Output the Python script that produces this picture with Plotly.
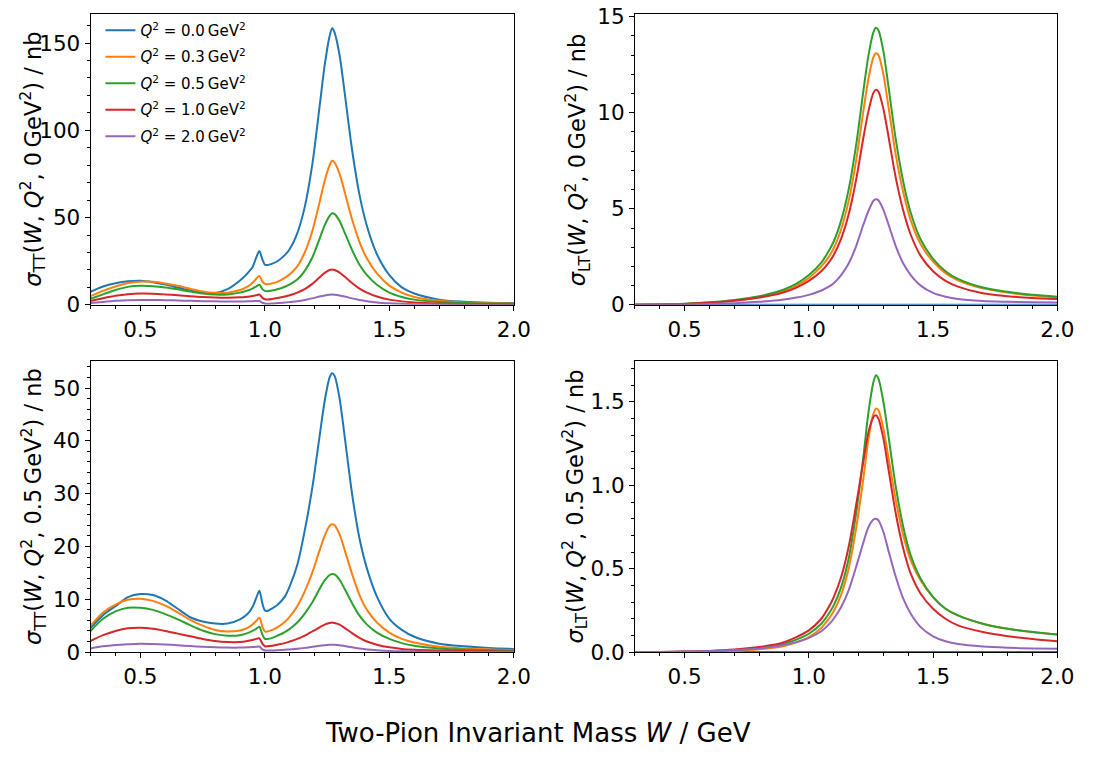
import plotly.graph_objects as go

# ---------------- data ----------------
W_TT = [0.30, 0.35, 0.40, 0.45, 0.50, 0.55, 0.60, 0.65, 0.70, 0.75, 0.80, 0.85, 0.90, 0.93, 0.95,
        0.965, 0.978, 0.99, 1.00, 1.01, 1.03, 1.05, 1.08, 1.10, 1.13, 1.16, 1.19, 1.22, 1.24, 1.26,
        1.27, 1.28, 1.30, 1.32, 1.35, 1.38, 1.41, 1.45, 1.50, 1.55, 1.60, 1.70, 1.80, 1.90, 2.00]

W_LT = [0.30, 0.40, 0.50, 0.60, 0.70, 0.80, 0.85, 0.90, 0.95, 1.00, 1.05, 1.08, 1.10, 1.13, 1.16,
        1.19, 1.22, 1.24, 1.26, 1.27, 1.28, 1.30, 1.32, 1.35, 1.38, 1.41, 1.45, 1.50, 1.55, 1.60,
        1.70, 1.80, 1.90, 2.00]

q2_labels = ["0.0", "0.3", "0.5", "1.0", "2.0"]
colors = ["#1f77b4", "#ff7f0e", "#2ca02c", "#d62728", "#9467bd"]

# sigma_TT(W, Q^2, 0 GeV^2)
tt_a_q00 = [7.5, 10.5, 12.4, 13.5, 13.8, 13.0, 11.6, 9.9, 8.2, 7.0, 6.8, 9.0, 14.0, 18.0, 21.5,
            27.0, 30.8, 26.0, 23.0, 22.8, 23.6, 25.0, 28.5, 32.0, 41.0, 56.0, 80.0, 114.0, 137.0, 154.0,
            158.5, 156.0, 143.0, 122.0, 89.0, 63.0, 45.0, 29.0, 17.0, 10.0, 6.5, 3.0, 1.8, 1.2, 1.0]
tt_a_q03 = [5.0, 8.0, 10.5, 12.5, 13.3, 13.2, 12.3, 10.9, 9.2, 7.7, 6.9, 7.0, 8.5, 10.5, 12.5,
            15.0, 16.6, 13.5, 12.0, 11.8, 12.3, 13.2, 15.5, 17.5, 22.0, 30.0, 42.0, 59.0, 71.0, 80.0,
            82.5, 81.5, 75.0, 65.0, 49.0, 36.0, 26.5, 18.0, 11.0, 7.0, 4.5, 2.3, 1.4, 1.0, 0.8]
tt_a_q05 = [3.5, 6.0, 8.5, 10.3, 10.9, 10.7, 10.0, 8.9, 7.6, 6.5, 5.9, 6.0, 7.0, 8.2, 9.3,
            10.5, 11.5, 9.0, 8.0, 7.8, 8.2, 8.9, 10.4, 11.7, 14.5, 19.5, 27.0, 38.0, 45.5, 51.0,
            52.5, 52.0, 48.0, 41.5, 31.5, 23.0, 17.0, 11.5, 7.0, 4.5, 3.0, 1.6, 1.0, 0.8, 0.6]
tt_a_q10 = [2.2, 3.8, 5.2, 6.1, 6.5, 6.4, 6.0, 5.5, 5.0, 4.5, 4.2, 4.1, 4.3, 4.7, 5.1,
            5.5, 5.9, 4.0, 3.2, 3.1, 3.4, 3.9, 4.8, 5.5, 7.0, 9.0, 12.0, 15.8, 18.3, 20.0,
            20.3, 20.0, 18.5, 16.2, 12.5, 9.3, 7.0, 4.8, 3.0, 2.0, 1.4, 0.8, 0.5, 0.4, 0.3]
tt_a_q20 = [1.0, 1.7, 2.3, 2.7, 2.8, 2.8, 2.7, 2.5, 2.3, 2.1, 2.0, 1.9, 1.9, 2.0, 2.1,
            2.2, 2.2, 1.2, 0.8, 0.7, 0.8, 1.0, 1.3, 1.6, 2.1, 2.8, 3.7, 4.8, 5.4, 5.8,
            5.9, 5.8, 5.4, 4.8, 3.7, 2.8, 2.1, 1.4, 0.9, 0.6, 0.4, 0.2, 0.15, 0.1, 0.1]

# sigma_LT(W, Q^2, 0 GeV^2)
lt_a_q00 = [0.0, 0.0, 0.0, 0.0, 0.0, 0.0, 0.0, 0.0, 0.0, 0.0, 0.0, 0.0, 0.0, 0.0, 0.0, 0.0, 0.0,
            0.0, 0.0, 0.0, 0.0, 0.0, 0.0, 0.0, 0.0, 0.0, 0.0, 0.0, 0.0, 0.0, 0.0, 0.0, 0.0, 0.0]
lt_a_q03 = [0.0, 0.02, 0.05, 0.11, 0.22, 0.40, 0.54, 0.72, 1.0, 1.4, 2.0, 2.5, 2.95, 3.95, 5.4,
            7.5, 10.15, 11.8, 12.9, 13.1, 13.0, 12.0, 10.35, 7.8, 5.85, 4.4, 3.15, 2.25, 1.65, 1.28,
            0.86, 0.64, 0.49, 0.39]
lt_a_q05 = [0.0, 0.02, 0.06, 0.13, 0.25, 0.45, 0.6, 0.8, 1.1, 1.55, 2.2, 2.8, 3.3, 4.4, 6.0,
            8.3, 11.2, 13.0, 14.2, 14.43, 14.3, 13.2, 11.4, 8.6, 6.4, 4.8, 3.4, 2.4, 1.75, 1.35,
            0.9, 0.68, 0.52, 0.42]
lt_a_q10 = [0.0, 0.02, 0.05, 0.11, 0.21, 0.38, 0.5, 0.66, 0.9, 1.25, 1.75, 2.2, 2.6, 3.45, 4.7,
            6.5, 8.75, 10.1, 11.05, 11.2, 11.1, 10.2, 8.8, 6.6, 4.9, 3.65, 2.55, 1.75, 1.25, 0.95,
            0.6, 0.45, 0.36, 0.3]
lt_a_q20 = [0.0, 0.01, 0.02, 0.05, 0.09, 0.16, 0.21, 0.28, 0.38, 0.52, 0.75, 0.95, 1.13, 1.55, 2.15,
            3.05, 4.2, 4.9, 5.42, 5.5, 5.45, 4.95, 4.2, 3.05, 2.15, 1.55, 1.0, 0.62, 0.42, 0.3,
            0.2, 0.16, 0.13, 0.12]

# sigma_TT(W, Q^2, 0.5 GeV^2)
tt_b_q00 = [4.6, 7.0, 8.7, 10.4, 11.0, 10.8, 9.8, 8.2, 6.6, 5.8, 5.4, 5.4, 6.2, 7.2, 8.5,
            10.2, 11.6, 9.2, 7.9, 7.8, 8.3, 8.9, 10.5, 12.5, 16.5, 23.0, 31.0, 41.0, 47.5, 52.0,
            52.8, 52.3, 48.0, 41.0, 30.0, 21.5, 15.8, 10.5, 6.3, 4.2, 2.9, 1.6, 1.1, 0.8, 0.6]
tt_b_q03 = [5.0, 7.5, 9.0, 9.9, 10.1, 9.7, 8.8, 7.5, 6.1, 5.0, 4.2, 3.9, 4.1, 4.6, 5.2,
            5.9, 6.5, 4.8, 3.9, 3.9, 4.2, 4.7, 5.7, 6.7, 8.7, 11.5, 15.0, 19.3, 22.0, 23.9,
            24.2, 24.0, 22.3, 19.4, 14.8, 10.8, 8.0, 5.6, 3.7, 2.5, 1.8, 1.0, 0.7, 0.5, 0.4]
tt_b_q05 = [4.0, 6.3, 7.7, 8.4, 8.4, 8.0, 7.2, 6.2, 5.1, 4.1, 3.4, 3.1, 3.2, 3.6, 4.0,
            4.4, 4.8, 3.3, 2.5, 2.5, 2.7, 3.1, 3.8, 4.4, 5.6, 7.3, 9.4, 12.0, 13.6, 14.6,
            14.8, 14.7, 13.7, 12.0, 9.3, 6.9, 5.2, 3.7, 2.5, 1.7, 1.2, 0.7, 0.5, 0.35, 0.3]
tt_b_q10 = [2.1, 3.2, 4.0, 4.5, 4.6, 4.4, 4.0, 3.5, 3.0, 2.5, 2.1, 1.9, 1.9, 2.1, 2.3,
            2.5, 2.6, 1.6, 1.1, 1.1, 1.2, 1.4, 1.7, 2.0, 2.5, 3.1, 3.9, 4.7, 5.2, 5.5,
            5.6, 5.5, 5.2, 4.6, 3.6, 2.7, 2.0, 1.4, 0.9, 0.6, 0.45, 0.3, 0.2, 0.15, 0.1]
tt_b_q20 = [0.7, 1.1, 1.35, 1.5, 1.6, 1.55, 1.45, 1.3, 1.15, 1.0, 0.9, 0.85, 0.85, 0.9, 0.95,
            1.0, 1.05, 0.5, 0.3, 0.3, 0.3, 0.35, 0.45, 0.5, 0.65, 0.8, 1.0, 1.2, 1.3, 1.38,
            1.4, 1.38, 1.3, 1.15, 0.9, 0.68, 0.5, 0.35, 0.22, 0.15, 0.1, 0.06, 0.04, 0.03, 0.02]

# sigma_LT(W, Q^2, 0.5 GeV^2)
lt_b_q00 = [0.0, 0.0, 0.0, 0.0, 0.0, 0.0, 0.0, 0.0, 0.0, 0.0, 0.0, 0.0, 0.0, 0.0, 0.0, 0.0, 0.0,
            0.0, 0.0, 0.0, 0.0, 0.0, 0.0, 0.0, 0.0, 0.0, 0.0, 0.0, 0.0, 0.0, 0.0, 0.0, 0.0, 0.0]
lt_b_q03 = [0.0, 0.0, 0.001, 0.003, 0.008, 0.017, 0.025, 0.037, 0.058, 0.09, 0.145, 0.2, 0.245, 0.345, 0.5,
            0.74, 1.05, 1.28, 1.43, 1.46, 1.45, 1.34, 1.17, 0.91, 0.70, 0.55, 0.43, 0.33, 0.26, 0.22,
            0.17, 0.14, 0.12, 0.105]
lt_b_q05 = [0.0, 0.0, 0.002, 0.005, 0.012, 0.025, 0.035, 0.05, 0.075, 0.11, 0.17, 0.23, 0.28, 0.39, 0.56,
            0.83, 1.18, 1.44, 1.62, 1.66, 1.64, 1.50, 1.30, 0.99, 0.75, 0.58, 0.44, 0.33, 0.26, 0.22,
            0.17, 0.14, 0.12, 0.105]
lt_b_q10 = [0.0, 0.001, 0.003, 0.007, 0.015, 0.03, 0.042, 0.06, 0.09, 0.13, 0.2, 0.27, 0.33, 0.45, 0.63,
            0.88, 1.15, 1.32, 1.41, 1.42, 1.40, 1.28, 1.10, 0.83, 0.62, 0.47, 0.35, 0.26, 0.2, 0.16,
            0.12, 0.095, 0.078, 0.065]
lt_b_q20 = [0.0, 0.001, 0.003, 0.006, 0.012, 0.022, 0.03, 0.042, 0.06, 0.085, 0.125, 0.165, 0.2, 0.27, 0.37,
            0.51, 0.66, 0.75, 0.795, 0.80, 0.79, 0.72, 0.61, 0.45, 0.32, 0.23, 0.15, 0.095, 0.065, 0.048,
            0.033, 0.026, 0.022, 0.02]

panels = [
    # (x-axis id, y-axis id, W grid, series list)
    ("x", "y", W_TT, [tt_a_q00, tt_a_q03, tt_a_q05, tt_a_q10, tt_a_q20]),
    ("x2", "y2", W_LT, [lt_a_q00, lt_a_q03, lt_a_q05, lt_a_q10, lt_a_q20]),
    ("x3", "y3", W_TT, [tt_b_q00, tt_b_q03, tt_b_q05, tt_b_q10, tt_b_q20]),
    ("x4", "y4", W_LT, [lt_b_q00, lt_b_q03, lt_b_q05, lt_b_q10, lt_b_q20]),
]

fig = go.Figure()
for pi, (xa, ya, wgrid, series) in enumerate(panels):
    for si, vals in enumerate(series):
        fig.add_trace(go.Scatter(
            x=wgrid, y=vals, mode="lines", xaxis=xa, yaxis=ya,
            line=dict(color=colors[si], width=2, shape="spline", smoothing=0.8),
            name=f"<i>Q</i><sup>2</sup> = {q2_labels[si]}\u2009GeV<sup>2</sup>",
            legendgroup=f"g{si}", showlegend=(pi == 0),
            hoverinfo="skip",
        ))

FONT = "DejaVu Sans"
tickfont = dict(family=FONT, size=21.5, color="black")

def xaxis(domain, anchor):
    return dict(domain=domain, anchor=anchor, range=[0.3, 2.0],
                tickvals=[0.5, 1.0, 1.5, 2.0], ticktext=["0.5", "1.0", "1.5", "2.0"],
                ticks="outside", ticklen=5, tickwidth=1, tickcolor="black",
                minor=dict(dtick=0.1, tick0=0.0, ticks="outside", ticklen=3, tickwidth=1, tickcolor="black"),
                showline=True, linecolor="black", linewidth=1, mirror=True,
                showgrid=False, zeroline=False, tickfont=tickfont,
                ticklabeloverflow="allow")

def yaxis(domain, anchor, rng, dtick, mdtick, fmt):
    return dict(domain=domain, anchor=anchor, range=rng, dtick=dtick, tick0=0, tickformat=fmt,
                ticks="outside", ticklen=5, tickwidth=1, tickcolor="black",
                minor=dict(dtick=mdtick, tick0=0, ticks="outside", ticklen=3, tickwidth=1, tickcolor="black"),
                showline=True, linecolor="black", linewidth=1, mirror=True,
                showgrid=False, zeroline=False, tickfont=tickfont,
                ticklabeloverflow="allow")

W_PX, H_PX = 1094, 765
xl = [92 / W_PX, 522 / W_PX]
xr = [645 / W_PX, 1074 / W_PX]
yt = [1 - 304 / H_PX, 1 - 4 / H_PX]
yb = [1 - 662 / H_PX, 1 - 362 / H_PX]

fig.update_layout(
    width=W_PX, height=H_PX,
    margin=dict(l=0, r=0, t=0, b=0),
    paper_bgcolor="white", plot_bgcolor="white",
    font=dict(family=FONT, color="black"),
    xaxis=xaxis(xl, "y"), yaxis=yaxis(yt, "x", [0, 166.7], 50, 10, "d"),
    xaxis2=xaxis(xr, "y2"), yaxis2=yaxis(yt, "x2", [0, 15.15], 5, 1, "d"),
    xaxis3=xaxis(xl, "y3"), yaxis3=yaxis(yb, "x3", [0, 55.1], 10, 2, "d"),
    xaxis4=xaxis(xr, "y4"), yaxis4=yaxis(yb, "x4", [0, 1.745], 0.5, 0.1, ".1f"),
    showlegend=True,
    legend=dict(x=102 / W_PX, y=1 - 4 / H_PX, xanchor="left", yanchor="top",
                bgcolor="rgba(0,0,0,0)", borderwidth=0,
                font=dict(family=FONT, size=15, color="black"),
                traceorder="grouped", tracegroupgap=4, itemwidth=30),
)

def ytitle(text, xpx, ycen):
    fig.add_annotation(text=text, x=xpx / W_PX, y=ycen, xref="paper", yref="paper",
                       textangle=-90, showarrow=False, xanchor="center", yanchor="middle",
                       font=dict(family=FONT, size=22.5, color="black"))

ymid_t = (yt[0] + yt[1]) / 2
ymid_b = (yb[0] + yb[1]) / 2
ytitle("<i>σ</i><sub>TT</sub>(<i>W</i>, <i>Q</i><sup>2</sup>, 0\u2009GeV<sup>2</sup>) / nb", 33, ymid_t)
ytitle("<i>σ</i><sub>LT</sub>(<i>W</i>, <i>Q</i><sup>2</sup>, 0\u2009GeV<sup>2</sup>) / nb", 586, ymid_t)
ytitle("<i>σ</i><sub>TT</sub>(<i>W</i>, <i>Q</i><sup>2</sup>, 0.5\u2009GeV<sup>2</sup>) / nb", 34, ymid_b)
ytitle("<i>σ</i><sub>LT</sub>(<i>W</i>, <i>Q</i><sup>2</sup>, 0.5\u2009GeV<sup>2</sup>) / nb", 584, ymid_b)

fig.add_annotation(text="Two-Pion Invariant Mass <i>W</i> / GeV", x=546 / W_PX, y=1 - 745 / H_PX,
                   xref="paper", yref="paper", showarrow=False, xanchor="center", yanchor="middle",
                   font=dict(family=FONT, size=26, color="black"))

fig.write_html("out.html")
